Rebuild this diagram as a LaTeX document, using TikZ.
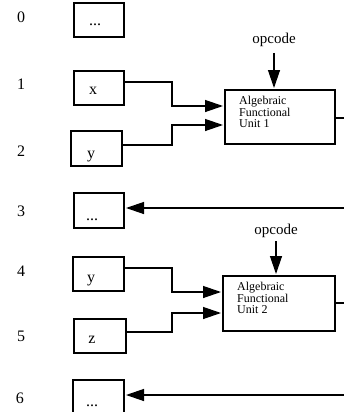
\documentclass[tikz,border=0pt]{standalone}
\usepackage{fontspec}
\setmainfont{Liberation Serif}
\usetikzlibrary{arrows.meta}
\begin{document}
\begin{tikzpicture}[x=1pt,y=-1pt,
  cell/.style={draw,line width=1.4pt,inner sep=0pt,outer sep=0pt,minimum width=50pt,minimum height=34pt},
  unitbox/.style={draw,line width=1.4pt,inner sep=0pt,outer sep=0pt,minimum width=110pt,minimum height=54pt},
  celltxt/.style={anchor=base,inner sep=0pt,font=\fontsize{16}{16}\selectfont},
  rowno/.style={anchor=base,inner sep=0pt,font=\fontsize{16}{16}\selectfont},
  optxt/.style={anchor=base,inner sep=0pt,font=\fontsize{15}{15}\selectfont},
  unittxt/.style={anchor=north west,inner sep=0pt,align=left,font=\fontsize{12}{11.5}\selectfont},
  wire/.style={line width=1.3pt},
  feed/.style={line width=1.3pt,-{Triangle[length=18pt,width=12pt]},shorten >=2pt},
]
\clip (0,0) rectangle (344,412);
\fill[white] (0,0) rectangle (344,412);

% register numbers
\node[rowno] (n0) at (21,23) {0};
\node[rowno] (n1) at (21,89) {1};
\node[rowno] (n2) at (21,156) {2};
\node[rowno] (n3) at (21,216) {3};
\node[rowno] (n4) at (21,276) {4};
\node[rowno] (n5) at (21,341) {5};
\node[rowno] (n6) at (20,403) {6};

% register cells
\node[cell] (c0) at (99,20) {};
\node[cell] (c1) at (99,88) {};
\node[cell,minimum width=51pt,minimum height=35pt] (c2) at (96.5,148.5) {};
\node[cell,minimum height=35pt] (c3) at (99,210.5) {};
\node[cell,minimum width=51pt] (c4) at (98.5,274) {};
\node[cell,minimum width=52pt] (c5) at (100,336) {};
\node[cell,minimum width=51pt,minimum height=60pt] (c6) at (98.5,410) {};

\node[celltxt] (t0) at (95,26) {...};
\node[celltxt] (t1) at (93,94) {x};
\node[celltxt] (t2) at (91,158) {y};
\node[celltxt] (t3) at (92,220) {...};
\node[celltxt] (t4) at (91,282) {y};
\node[celltxt] (t5) at (92,343) {z};
\node[celltxt] (t6) at (92,406) {...};

% functional units
\node[unitbox] (u1) at (280,117) {};
\node[unittxt] (u1t) at (239,96) {Algebraic\\Functional\\Unit 1};
\node[unitbox,minimum width=112pt,minimum height=55pt] (u2) at (279,303.5) {};
\node[unittxt] (u2t) at (237,282) {Algebraic\\Functional\\Unit 2};

\node[optxt] (op1) at (274,44) {opcode};
\node[optxt] (op2) at (276,234) {opcode};

% opcode inputs
\coordinate (o1) at (274,53);
\coordinate (o2) at (276,241);
\draw[feed] (o1) -- (u1.north -| o1);
\draw[feed] (o2) -- (u2.north -| o2);

% operand wiring into unit 1
\draw[feed] (c1.east |- 0,82) -- (172,82) -- (172,106) -- (u1.west |- 0,106);
\draw[feed] (c2.east |- 0,145) -- (172,145) -- (172,125) -- (u1.west |- 0,125);

% operand wiring into unit 2
\draw[feed] (c4.east |- 0,268) -- (172,268) -- (172,292) -- (u2.west |- 0,292);
\draw[feed] (c5.east |- 0,332) -- (172,332) -- (172,313) -- (u2.west |- 0,313);

% results leave to the right and come back to the cells
\coordinate (r1out) at (344,118);
\coordinate (r1in) at (344,208);
\coordinate (r2out) at (344,303);
\coordinate (r2in) at (344,395);
\draw[wire] (u1.east |- r1out) -- (r1out);
\draw[wire] (u2.east |- r2out) -- (r2out);
\draw[feed] (r1in) -- (c3.east |- r1in);
\draw[feed] (r2in) -- (c6.east |- r2in);
\end{tikzpicture}
\end{document}
